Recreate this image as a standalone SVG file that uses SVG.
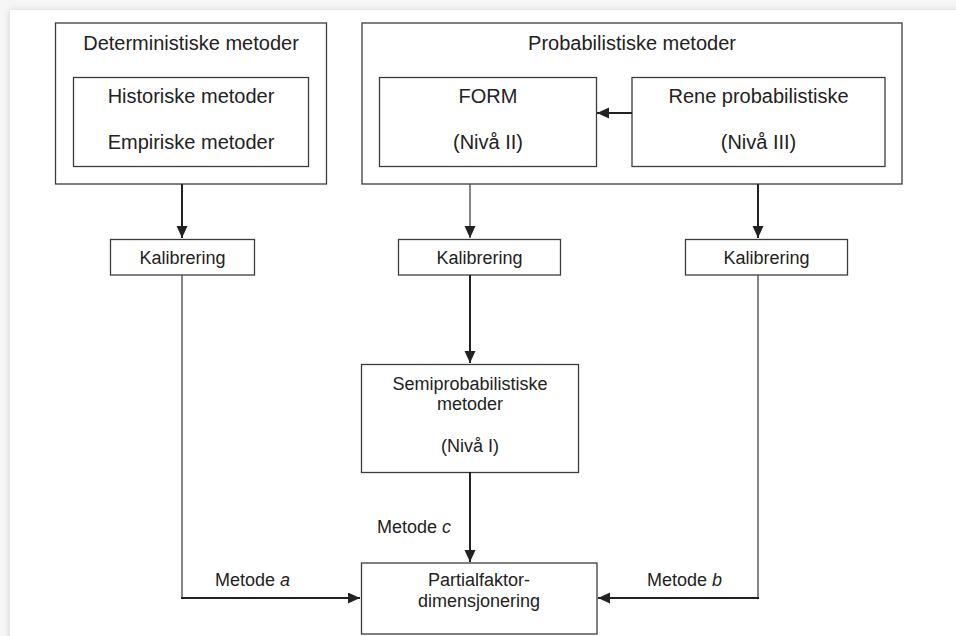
<svg xmlns="http://www.w3.org/2000/svg" width="956" height="636" viewBox="0 0 956 636">
  <defs>
    <style>
      .box { fill: #ffffff; stroke: #3c3c3c; stroke-width: 1.3; }
      .t20 { font-family: "Liberation Sans", Arial, sans-serif; font-size: 20px; fill: #222222; text-anchor: middle; }
      .t18 { font-family: "Liberation Sans", Arial, sans-serif; font-size: 18px; fill: #222222; text-anchor: middle; }
      .lbl { font-family: "Liberation Sans", Arial, sans-serif; font-size: 18px; fill: #222222; }
      .thick { fill: none; stroke: #222222; stroke-width: 2; }
      .thin { fill: none; stroke: #444444; stroke-width: 1.3; }
    </style>
    <marker id="arrow" markerUnits="userSpaceOnUse" markerWidth="12" markerHeight="12" refX="12" refY="5.5" orient="auto">
      <path d="M0,0 L12,5.5 L0,11 Z" fill="#222222"/>
    </marker>
    <filter id="shadow" x="-5%" y="-5%" width="110%" height="110%">
      <feDropShadow dx="-1" dy="0" stdDeviation="3" flood-color="#000000" flood-opacity="0.12"/>
    </filter>
  </defs>

  <rect x="0" y="0" width="956" height="636" fill="#f6f6f6"/>
  <rect x="10" y="10" width="960" height="640" fill="#ffffff" filter="url(#shadow)"/>

  <g id="deterministiske">
    <rect class="box" x="55.5" y="23" width="271" height="161"/>
    <text class="t20" x="191" y="50">Deterministiske metoder</text>
  </g>
  <g id="historiske-empiriske">
    <rect class="box" x="73.5" y="77.5" width="235" height="89"/>
    <text class="t20" x="191" y="103">Historiske metoder</text>
    <text class="t20" x="191" y="149">Empiriske metoder</text>
  </g>

  <g id="probabilistiske">
    <rect class="box" x="362" y="23" width="540" height="161"/>
    <text class="t20" x="632" y="50">Probabilistiske metoder</text>
  </g>
  <g id="form">
    <rect class="box" x="379.5" y="77.5" width="217" height="89"/>
    <text class="t20" x="488" y="103">FORM</text>
    <text class="t20" x="488" y="149">(Nivå II)</text>
  </g>
  <g id="rene">
    <rect class="box" x="632" y="77.5" width="253" height="89"/>
    <text class="t20" x="758.5" y="103">Rene probabilistiske</text>
    <text class="t20" x="758.5" y="149">(Nivå III)</text>
  </g>

  <g id="kalibrering-1">
    <rect class="box" x="110.5" y="239.5" width="144" height="35.5"/>
    <text class="t18" x="182.5" y="264">Kalibrering</text>
  </g>
  <g id="kalibrering-2">
    <rect class="box" x="398.5" y="239.5" width="162" height="35.5"/>
    <text class="t18" x="479.5" y="264">Kalibrering</text>
  </g>
  <g id="kalibrering-3">
    <rect class="box" x="685.5" y="239.5" width="162" height="35.5"/>
    <text class="t18" x="766.5" y="264">Kalibrering</text>
  </g>

  <g id="semiprobabilistiske">
    <rect class="box" x="361.5" y="364.5" width="217" height="108"/>
    <text class="t18" x="470" y="390">Semiprobabilistiske</text>
    <text class="t18" x="470" y="410">metoder</text>
    <text class="t18" x="470" y="452">(Nivå I)</text>
  </g>

  <g id="partialfaktor">
    <rect class="box" x="361.5" y="563" width="235.5" height="71"/>
    <text class="t18" x="479" y="586">Partialfaktor-</text>
    <text class="t18" x="479" y="607">dimensjonering</text>
  </g>

  <g id="connectors">
    <path class="thick" d="M182,184 V238" marker-end="url(#arrow)"/>
    <path class="thin" d="M470,184 V238" marker-end="url(#arrow)"/>
    <path class="thick" d="M758,184 V238" marker-end="url(#arrow)"/>
    <path class="thick" d="M632,113 H597" marker-end="url(#arrow)"/>
    <path class="thick" d="M470,275 V363" marker-end="url(#arrow)"/>
    <path class="thick" d="M470,472 V562" marker-end="url(#arrow)"/>
    <path class="thin" d="M182,275 V598"/>
    <path class="thick" d="M181,598 H360" marker-end="url(#arrow)"/>
    <path class="thin" d="M758,275 V598"/>
    <path class="thick" d="M759,598 H598" marker-end="url(#arrow)"/>
    <text class="lbl" x="215" y="586">Metode <tspan font-style="italic">a</tspan></text>
    <text class="lbl" x="377" y="533">Metode <tspan font-style="italic">c</tspan></text>
    <text class="lbl" x="647" y="586">Metode <tspan font-style="italic">b</tspan></text>
  </g>
</svg>
